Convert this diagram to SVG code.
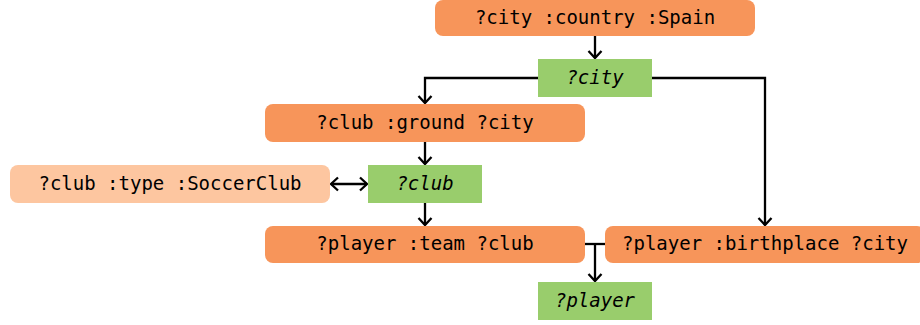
<svg xmlns="http://www.w3.org/2000/svg" width="920" height="325" viewBox="0 0 920 325">
  <style>
    .pattern { fill: #F7955A; }
    .pattern-light { fill: #FDC6A0; }
    .var { fill: #99CD6C; }
    .label { font-family: "DejaVu Sans Mono", "Liberation Mono", monospace; font-size: 19px; fill: #000; text-anchor: middle; }
    .italic { font-style: italic; }
    .edge { fill: none; stroke: #000; stroke-width: 2.3; }
  </style>
  <defs>
    <!-- open chevron head, tip at the path end -->
    <marker id="chev" viewBox="-10 -9 12 18" refX="0" refY="0" markerWidth="12" markerHeight="18" markerUnits="userSpaceOnUse" orient="auto-start-reverse">
      <path d="M-7,-6.5 L0,0 L-7,6.5" fill="none" stroke="#000" stroke-width="2.3"/>
    </marker>
  </defs>

  <g id="connectors">
    <path class="edge" d="M595,36 V58" marker-end="url(#chev)"/>
    <path class="edge" d="M538,78 H425 V103" marker-end="url(#chev)"/>
    <path class="edge" d="M652,78 H765 V225" marker-end="url(#chev)"/>
    <path class="edge" d="M425,142 V164" marker-end="url(#chev)"/>
    <path class="edge" d="M331,184 H367" marker-start="url(#chev)" marker-end="url(#chev)"/>
    <path class="edge" d="M425,203 V225" marker-end="url(#chev)"/>
    <path class="edge" d="M585,244 H606"/>
    <path class="edge" d="M595,244 V281" marker-end="url(#chev)"/>
  </g>

  <g id="city-country">
    <rect class="pattern" x="435" y="0" width="320" height="36" rx="8"/>
    <text class="label" x="595" y="24">?city :country :Spain</text>
  </g>
  <g id="city">
    <rect class="var" x="538" y="59" width="114" height="38"/>
    <text class="label italic" x="595" y="84">?city</text>
  </g>
  <g id="club-ground">
    <rect class="pattern" x="265" y="104" width="320" height="38" rx="8"/>
    <text class="label" x="425" y="129">?club :ground ?city</text>
  </g>
  <g id="club-type">
    <rect class="pattern-light" x="10" y="165" width="320" height="38" rx="8"/>
    <text class="label" x="170" y="190">?club :type :SoccerClub</text>
  </g>
  <g id="club">
    <rect class="var" x="368" y="165" width="114" height="38"/>
    <text class="label italic" x="425" y="190">?club</text>
  </g>
  <g id="player-team">
    <rect class="pattern" x="265" y="226" width="320" height="37" rx="8"/>
    <text class="label" x="425" y="250">?player :team ?club</text>
  </g>
  <g id="player-birthplace">
    <rect class="pattern" x="605" y="226" width="320" height="37" rx="8"/>
    <text class="label" x="765" y="250">?player :birthplace ?city</text>
  </g>
  <g id="player">
    <rect class="var" x="538" y="282" width="114" height="38"/>
    <text class="label italic" x="595" y="307">?player</text>
  </g>
</svg>
